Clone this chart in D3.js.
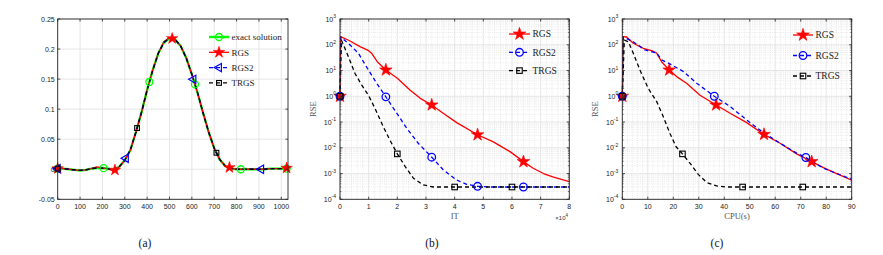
<!DOCTYPE html>
<html><head><meta charset="utf-8">
<script src="https://cdn.jsdelivr.net/npm/d3@7"></script>
<style>body{margin:0;background:#fff;} svg{display:block;font-family:"Liberation Sans",Arial,sans-serif}</style>
</head><body><svg id="c" width="883" height="255"></svg>
<script>
// ---------- Panel (a) data ----------
const aX     = [0,25,50,75,100,125,150,175,200,225,250,275,300,325,350,375,400,425,450,475,500,525,550,575,600,625,650,675,700,725,750,775,800,825,850,875,900,925,950,975,1000,1024];
const aExact = [0.001,0.001,0.000,-0.001,-0.002,-0.001,0.001,0.002,0.002,0.001,-0.001,0.004,0.015,0.032,0.062,0.095,0.132,0.165,0.193,0.211,0.218,0.216,0.205,0.185,0.158,0.128,0.094,0.062,0.035,0.016,0.005,0.001,0.000,0.000,0.000,0.000,0.000,0.000,0.001,0.001,0.001,0.001];
const aRGS   = [0.001,0.001,0.000,-0.001,-0.002,-0.001,0.001,0.004,0.002,0.001,-0.003,0.004,0.015,0.032,0.062,0.095,0.132,0.165,0.193,0.212,0.219,0.216,0.205,0.185,0.158,0.128,0.094,0.062,0.035,0.016,0.005,0.002,0.000,0.000,0.000,0.000,0.000,0.000,0.001,0.001,0.001,0.002];
const aRGS2  = [0.001,0.001,0.000,-0.001,-0.002,-0.001,0.001,0.002,0.002,0.001,-0.001,0.004,0.015,0.032,0.062,0.095,0.132,0.165,0.193,0.211,0.218,0.216,0.205,0.185,0.158,0.128,0.094,0.062,0.035,0.016,0.005,0.001,0.000,0.000,0.000,0.000,0.000,0.000,0.001,0.001,0.001,0.001];
const aTRGS  = [0.001,0.001,0.000,-0.001,-0.002,-0.001,0.001,0.002,0.002,0.001,-0.001,0.004,0.015,0.032,0.062,0.095,0.132,0.165,0.193,0.211,0.218,0.216,0.205,0.185,0.158,0.128,0.094,0.062,0.035,0.016,0.005,0.001,0.000,0.000,0.000,0.000,0.000,0.000,0.001,0.001,0.001,0.001];
const aMkExact = [0,205,410,614,819,1024];
const aMkRGS   = [0,256,512,768,1024];
const aMkRGS2  = [0,305,607,910];
const aMkTRGS  = [0,355,710];
const aXTicks = [0,100,200,300,400,500,600,700,800,900,1000];
const aYTicks = [-0.05,0,0.05,0.1,0.15,0.2,0.25];
const aYLabels = ["-0.05","0","0.05","0.1","0.15","0.2","0.25"];

// ---------- Panel (b) data (IT, x10^4) ----------
const bRGSx  = [0,0.02,0.3,0.7,1.0,1.1,1.3,1.6,2.0,2.45,2.8,3.2,3.6,4.07,4.8,5.35,5.93,6.4,6.74,7.1,7.45,8];
const bRGSy  = [1,206,150,85,59,47,22,10.5,5,1.7,0.83,0.46,0.22,0.095,0.032,0.017,0.0071,0.0029,0.0016,0.001,0.00072,0.00049];
const bRGS2x = [0,0.03,0.35,0.64,0.99,1.28,1.6,1.98,2.33,2.73,3.21,3.6,4.07,4.42,4.8,5.2,8];
const bRGS2y = [1,200,98,47,10.5,3.2,0.95,0.22,0.057,0.015,0.0042,0.0014,0.00056,0.00038,0.00032,0.0003,0.0003];
const bTRGSx = [0,0.05,0.29,0.52,0.76,0.99,1.22,1.51,1.74,2.0,2.27,2.56,2.91,3.26,8];
const bTRGSy = [1,150,35,7.8,2.7,1.1,0.34,0.066,0.02,0.0058,0.0019,0.00066,0.00036,0.0003,0.0003];
const bMkRGS  = [0,1.6,3.2,4.8,6.4];
const bMkRGS2 = [0,1.6,3.2,4.8,6.4];
const bMkTRGS = [0,2,4,6];
const bXTicks = [0,1,2,3,4,5,6,7,8];

// ---------- Panel (c) data (CPU seconds) ----------
const cRGSx  = [0,0.4,1.7,4.3,8.2,11.5,13.5,15.4,18.4,21.3,25.2,30.5,36.8,42.3,48.8,55.6,61.9,68.4,74.3,78.9,84.1,90];
const cRGSy  = [1,206,200,114,73,59,47,22,10.5,5.8,3.2,1.1,0.46,0.22,0.095,0.033,0.015,0.0058,0.0029,0.0017,0.001,0.00056];
const cRGS2x = [0,0.4,4.3,8.9,13.5,15.4,18.7,24,29.2,36.1,42.3,48.8,55.3,61.9,68.4,72,78.9,90];
const cRGS2y = [1,200,130,63,47,26,18,9.1,3.2,1.0,0.4,0.12,0.039,0.015,0.0062,0.0042,0.0016,0.0006];
const cTRGSx = [0,0.8,2.4,4.3,6.9,10.2,13.5,16.1,18.7,21.1,23.6,26.6,29.8,33.1,37,40.9,90];
const cTRGSy = [1,150,130,47,10.5,2,0.62,0.16,0.036,0.011,0.0058,0.0025,0.00093,0.00045,0.00033,0.0003,0.0003];
const cMkRGS  = [0,18.4,36.8,55.6,74.3];
const cMkRGS2 = [0,36.1,72];
const cMkTRGS = [0,23.6,47.2,70.8];
const cXTicks = [0,10,20,30,40,50,60,70,80,90];

const logTicks = [-4,-3,-2,-1,0,1,2,3];

// ---------- drawing ----------
const svg = d3.select('#c');
const TOP = 19, BOT = 199.3;
const AXC = '#262626';

function interp(xs, ys, xv, log) {
  for (let i = 0; i < xs.length - 1; i++) {
    if (xv >= xs[i] && xv <= xs[i+1]) {
      const t = xs[i+1] === xs[i] ? 0 : (xv - xs[i]) / (xs[i+1] - xs[i]);
      if (log) return Math.pow(10, Math.log10(ys[i]) * (1-t) + Math.log10(ys[i+1]) * t);
      return ys[i] * (1-t) + ys[i+1] * t;
    }
  }
  return ys[ys.length-1];
}

const styles = {
  "exact solution": {color:'#00ff00', width:2.4, dash:null, marker:'circle'},
  "RGS":  {color:'#ff0000', width:1.3, dash:null, marker:'star'},
  "RGS2": {color:'#0000ff', width:1.3, dash:'4,3', marker:'tri'},
  "TRGS": {color:'#000000', width:1.3, dash:'4,3', marker:'square'}
};

function drawMarker(g, type, cx, cy, color, big) {
  const s = big ? 1.15 : 1;
  if (type === 'circle' || type === 'bcircle') {
    g.append('circle').attr('cx',cx).attr('cy',cy).attr('r',(type==='bcircle'?3.8:3.5))
      .attr('fill','none').attr('stroke',color).attr('stroke-width',1.3);
  } else if (type === 'star') {
    g.append('path').attr('d', d3.symbol().type(d3.symbolStar).size(big?50:40)())
      .attr('transform',`translate(${cx},${cy})`).attr('fill',color).attr('stroke',color).attr('stroke-width',0.6);
  } else if (type === 'tri') {
    g.append('path').attr('d', d3.symbol().type(d3.symbolTriangle).size(30)())
      .attr('transform',`translate(${cx},${cy}) rotate(-90)`).attr('fill','none').attr('stroke',color).attr('stroke-width',1.2);
  } else if (type === 'square') {
    const h = 2.4*s;
    g.append('rect').attr('x',cx-h).attr('y',cy-h).attr('width',2*h).attr('height',2*h)
      .attr('fill','none').attr('stroke',color).attr('stroke-width',1.1);
  }
}

let clipId = 0;
function panel(cfg) {
  const g = svg.append('g');
  const x = d3.scaleLinear().domain(cfg.xdom).range([cfg.left, cfg.right]);
  const y = cfg.log ? d3.scaleLog().domain([1e-4,1e3]).range([BOT, TOP])
                    : d3.scaleLinear().domain(cfg.ydom).range([BOT, TOP]);
  if (cfg.log) {
    const minor = [];
    for (let e = -4; e < 3; e++) for (let k = 2; k <= 9; k++) minor.push(k * Math.pow(10, e));
    g.selectAll(null).data(minor).enter().append('line')
      .attr('x1',cfg.left).attr('x2',cfg.right).attr('y1',d=>y(d)).attr('y2',d=>y(d))
      .attr('stroke','#dcdcdc').attr('stroke-width',0.6).attr('stroke-dasharray','1,1.2');
    const xm = d3.range(cfg.xdom[0], cfg.xdom[1]+1e-9, cfg.xminor).filter(v => !cfg.xticks.some(t => Math.abs(t-v) < 1e-6));
    g.selectAll(null).data(xm).enter().append('line')
      .attr('y1',TOP).attr('y2',BOT).attr('x1',d=>x(d)).attr('x2',d=>x(d))
      .attr('stroke','#dcdcdc').attr('stroke-width',0.6).attr('stroke-dasharray','1,1.2');
  }
  const ymaj = cfg.log ? logTicks.map(e => Math.pow(10,e)) : cfg.yticks;
  g.selectAll(null).data(ymaj).enter().append('line')
    .attr('x1',cfg.left).attr('x2',cfg.right).attr('y1',d=>y(d)).attr('y2',d=>y(d))
    .attr('stroke','#e3e3e3').attr('stroke-width',0.9);
  g.selectAll(null).data(cfg.xticks).enter().append('line')
    .attr('y1',TOP).attr('y2',BOT).attr('x1',d=>x(d)).attr('x2',d=>x(d))
    .attr('stroke','#e3e3e3').attr('stroke-width',0.9);

  const cid = 'clip' + (clipId++);
  g.append('clipPath').attr('id',cid).append('rect')
    .attr('x',cfg.left-6).attr('y',TOP-6).attr('width',cfg.right-cfg.left+12).attr('height',BOT-TOP+12);
  const plot = g.append('g').attr('clip-path',`url(#${cid})`);

  cfg.series.forEach(s => {
    const st = styles[s.name];
    const pts = s.xs.map((v,i) => [v, s.ys[i]]);
    plot.append('path').datum(pts)
      .attr('d', d3.line().x(d=>x(d[0])).y(d=>y(d[1])))
      .attr('fill','none').attr('stroke',st.color).attr('stroke-width',st.width)
      .attr('stroke-dasharray',st.dash).attr('stroke-linejoin','round');
  });
  cfg.series.forEach(s => {
    const st = styles[s.name];
    const mt = (cfg.log && st.marker==='tri') ? 'bcircle' : st.marker;
    s.marks.forEach(mx => drawMarker(plot, mt, x(mx), y(interp(s.xs, s.ys, mx, cfg.log)), st.color, cfg.log));
  });

  g.append('rect').attr('x',cfg.left).attr('y',TOP).attr('width',cfg.right-cfg.left).attr('height',BOT-TOP)
    .attr('fill','none').attr('stroke',AXC).attr('stroke-width',0.9);
  const tl = 2.6;
  cfg.xticks.forEach(t => {
    g.append('line').attr('x1',x(t)).attr('x2',x(t)).attr('y1',BOT).attr('y2',BOT-tl).attr('stroke',AXC).attr('stroke-width',0.8);
    g.append('line').attr('x1',x(t)).attr('x2',x(t)).attr('y1',TOP).attr('y2',TOP+tl).attr('stroke',AXC).attr('stroke-width',0.8);
    g.append('text').attr('x',x(t)).attr('y',BOT+9.8).attr('text-anchor','middle')
      .attr('font-size',7).attr('fill','#222').text(t);
  });
  ymaj.forEach((t,i) => {
    g.append('line').attr('x1',cfg.left).attr('x2',cfg.left+tl).attr('y1',y(t)).attr('y2',y(t)).attr('stroke',AXC).attr('stroke-width',0.8);
    g.append('line').attr('x1',cfg.right).attr('x2',cfg.right-tl).attr('y1',y(t)).attr('y2',y(t)).attr('stroke',AXC).attr('stroke-width',0.8);
    if (cfg.log) {
      const tx = g.append('text').attr('x',cfg.left-4).attr('y',y(t)+2.6).attr('text-anchor','end')
        .attr('font-size',7).attr('fill','#222');
      tx.append('tspan').text('10');
      tx.append('tspan').attr('dy',-3.5).attr('font-size',5).text(logTicks[i]);
    } else {
      g.append('text').attr('x',cfg.left-3).attr('y',y(t)+2.5).attr('text-anchor','end')
        .attr('font-size',7).attr('fill','#222').text(aYLabels[i]);
    }
  });
  if (cfg.log) {
    const minor = [];
    for (let e = -4; e < 3; e++) for (let k = 2; k <= 9; k++) minor.push(k * Math.pow(10, e));
    minor.forEach(t => {
      g.append('line').attr('x1',cfg.left).attr('x2',cfg.left+1.4).attr('y1',y(t)).attr('y2',y(t)).attr('stroke',AXC).attr('stroke-width',0.6);
      g.append('line').attr('x1',cfg.right).attr('x2',cfg.right-1.4).attr('y1',y(t)).attr('y2',y(t)).attr('stroke',AXC).attr('stroke-width',0.6);
    });
    g.append('text').attr('transform',`translate(${cfg.left-24},${(TOP+BOT)/2}) rotate(-90)`)
      .attr('text-anchor','middle').attr('font-family','"Liberation Serif",serif').attr('font-size',8.5)
      .attr('fill','#555').text('RSE');
  }
  if (cfg.xlabel) {
    g.append('text').attr('x',(cfg.left+cfg.right)/2).attr('y',219).attr('text-anchor','middle')
      .attr('font-family','"Liberation Serif",serif').attr('font-size',8.5).attr('fill','#555').text(cfg.xlabel);
  }

  const L = cfg.legend;
  cfg.series.forEach((s,i) => {
    const st = styles[s.name];
    const yy = L.y0 + i*L.dy;
    g.append('line').attr('x1',L.x).attr('x2',L.x+L.len).attr('y1',yy).attr('y2',yy)
      .attr('stroke',st.color).attr('stroke-width',st.width).attr('stroke-dasharray',st.dash);
    const mt = (cfg.log && st.marker==='tri') ? 'bcircle' : st.marker;
    drawMarker(g, mt, L.x+L.len/2, yy, st.color, cfg.log);
    g.append('text').attr('x',L.x+L.len+2.5).attr('y',yy+3.2).attr('font-family','"Liberation Serif",serif')
      .attr('font-size',L.fs).attr('fill','#222').text(s.name);
  });

  g.append('text').attr('x',cfg.cap).attr('y',247).attr('text-anchor','middle')
    .attr('font-family','"Liberation Serif",serif').attr('font-size',11.5).attr('fill','#111').text(cfg.caption);
  return {g,x,y};
}

panel({
  left:57.7, right:288, xdom:[0,1030], ydom:[-0.05,0.25], log:false,
  xticks:aXTicks, yticks:aYTicks,
  series:[
    {name:"exact solution", xs:aX, ys:aExact, marks:aMkExact},
    {name:"RGS", xs:aX, ys:aRGS, marks:aMkRGS},
    {name:"RGS2", xs:aX, ys:aRGS2, marks:aMkRGS2},
    {name:"TRGS", xs:aX, ys:aTRGS, marks:aMkTRGS}
  ],
  legend:{x:209, len:20, y0:37, dy:15.3, fs:9},
  cap:145, caption:'(a)'
});

const pb = panel({
  left:340, right:569.3, xdom:[0,8], log:true, xticks:bXTicks, xminor:0.2,
  series:[
    {name:"RGS", xs:bRGSx, ys:bRGSy, marks:bMkRGS},
    {name:"RGS2", xs:bRGS2x, ys:bRGS2y, marks:bMkRGS2},
    {name:"TRGS", xs:bTRGSx, ys:bTRGSy, marks:bMkTRGS}
  ],
  legend:{x:509, len:21, y0:34, dy:18.3, fs:9.5},
  xlabel:'IT', cap:432, caption:'(b)'
});
const ex = pb.g.append('text').attr('x',pb.x(8)-14).attr('y',219.5).attr('font-size',6).attr('fill','#333');
ex.append('tspan').text('\u00d710');
ex.append('tspan').attr('dy',-3).attr('font-size',4.5).text('4');

panel({
  left:622.3, right:851.7, xdom:[0,90], log:true, xticks:cXTicks, xminor:2,
  series:[
    {name:"RGS", xs:cRGSx, ys:cRGSy, marks:cMkRGS},
    {name:"RGS2", xs:cRGS2x, ys:cRGS2y, marks:cMkRGS2},
    {name:"TRGS", xs:cTRGSx, ys:cTRGSy, marks:cMkTRGS}
  ],
  legend:{x:793, len:20, y0:35, dy:20.5, fs:9.5},
  xlabel:'CPU(s)', cap:717, caption:'(c)'
});
</script></body></html>
